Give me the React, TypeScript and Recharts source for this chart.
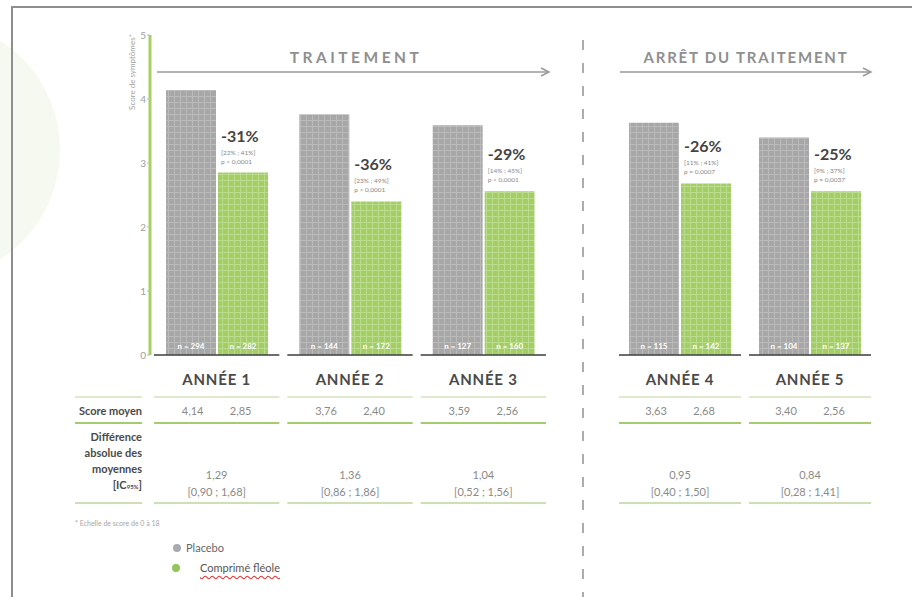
import React from 'react'
import { BarChart, Bar, XAxis, YAxis, LabelList } from 'recharts'

// values (French decimal commas in the table)
const years = ['ANNÉE 1', 'ANNÉE 2', 'ANNÉE 3', 'ANNÉE 4', 'ANNÉE 5']
const placebo = [4.14, 3.76, 3.59, 3.63, 3.4]
const fleole = [2.85, 2.4, 2.56, 2.68, 2.56]
const nPlacebo = [294, 144, 127, 115, 104]
const nFleole = [282, 172, 160, 142, 137]
const reduction = ['-31%', '-36%', '-29%', '-26%', '-25%']
const reductionCI = ['[22% ; 41%]', '[23% ; 49%]', '[14% ; 45%]', '[11% ; 41%]', '[9% ; 37%]']
const pValues = ['p < 0,0001', 'p < 0,0001', 'p < 0,0001', 'p = 0,0007', 'p = 0,0037']
const diff = [1.29, 1.36, 1.04, 0.95, 0.84]
const diffLow = [0.9, 0.86, 0.52, 0.4, 0.28]
const diffHigh = [1.68, 1.86, 1.56, 1.5, 1.41]
const yTicks = [0, 1, 2, 3, 4, 5]

const FONT = 'Lato, "Open Sans", sans-serif'
const fr = (v: number) => v.toFixed(2).replace('.', ',')

const rows = years.map((year, i) => ({
  year,
  placebo: placebo[i],
  fleole: fleole[i],
  nP: `n = ${nPlacebo[i]}`,
  nF: `n = ${nFleole[i]}`,
}))
const treatRows = rows.slice(0, 3)
const stopRows = rows.slice(3)

// each x tick draws its whole table column: baseline, year, score row, difference row
function YearTick(props: any) {
  const { x, y, payload, band } = props
  const i = years.indexOf(payload.value)
  const l = x - band / 2 + 4
  const r = x + band / 2 - 4
  const num = { fontSize: 11, fill: '#8a8a8a', textAnchor: 'middle' as const, fontFamily: FONT }
  return (
    <g>
      <line x1={l} x2={r} y1={y} y2={y} stroke="#3c3c3c" strokeWidth={1.5} />
      <text x={x} y={y + 30} textAnchor="middle" fontSize={15} fontWeight={700} fill="#4a4a4a" letterSpacing={0.8} fontFamily={FONT}>
        {payload.value}
      </text>
      <line x1={l} x2={r} y1={y + 42} y2={y + 42} stroke="#d4e2bd" strokeWidth={1.5} />
      <text x={x - 24} y={y + 60} {...num}>{fr(placebo[i])}</text>
      <text x={x + 24} y={y + 60} {...num}>{fr(fleole[i])}</text>
      <line x1={l} x2={r} y1={y + 68} y2={y + 68} stroke="#a6ca6e" strokeWidth={2} />
      <text x={x} y={y + 124} {...num}>{fr(diff[i])}</text>
      <text x={x} y={y + 141} {...num}>[{fr(diffLow[i])} ; {fr(diffHigh[i])}]</text>
      <line x1={l} x2={r} y1={y + 148} y2={y + 148} stroke="#bcd69a" strokeWidth={1.5} />
    </g>
  )
}

function ReductionLabel(props: any) {
  const { x, y, index, offsetIdx } = props
  const i = index + offsetIdx
  const tx = x + 3
  return (
    <g fontFamily={FONT}>
      <text x={tx} y={y - 31} fontSize={16} fontWeight={700} fill="#444">{reduction[i]}</text>
      <text x={tx} y={y - 18} fontSize={6.5} fill="#888">{reductionCI[i]}</text>
      <text x={tx} y={y - 9} fontSize={6.5} fill="#888">{pValues[i]}</text>
    </g>
  )
}

function Patterns() {
  return (
    <defs>
      <pattern id="gridGray" width="6" height="6" patternUnits="userSpaceOnUse">
        <rect width="6" height="6" fill="#a7a7a7" />
        <path d="M0 0.5H6M0.5 0V6" stroke="#bababa" strokeWidth="1" />
      </pattern>
      <pattern id="gridGreen" width="6" height="6" patternUnits="userSpaceOnUse">
        <rect width="6" height="6" fill="#a3ce63" />
        <path d="M0 0.5H6M0.5 0V6" stroke="#bbdb8e" strokeWidth="1" />
      </pattern>
    </defs>
  )
}

export default function App() {
  const nLabel = { position: 'insideBottom' as const, fill: '#fff', fontSize: 8, fontWeight: 700, offset: 6, fontFamily: FONT }
  return (
    <div style={{ position: 'absolute', left: 0, top: 0, width: 912, height: 597, background: '#fff', fontFamily: FONT, overflow: 'hidden' }}>
      <svg width={912} height={597} style={{ position: 'absolute', left: 0, top: 0 }} fontFamily={FONT}>
        <circle cx={-70} cy={150} r={130} fill="#f6f9f0" />
        <rect x={12} y={7} width={920} height={620} fill="none" stroke="#8e8e8e" strokeWidth={2} />
        {/* period headers */}
        <text x={356} y={63} textAnchor="middle" fontSize={15.5} fontWeight={700} fill="#8f8f8f" letterSpacing={3.5}>TRAITEMENT</text>
        <line x1={157} x2={548} y1={72} y2={72} stroke="#9a9a9a" strokeWidth={1.5} />
        <polyline points="541,68 549,72 541,76" fill="none" stroke="#9a9a9a" strokeWidth={1.5} />
        <text x={746} y={63} textAnchor="middle" fontSize={15} fontWeight={700} fill="#8f8f8f" letterSpacing={1.8}>ARRÊT DU TRAITEMENT</text>
        <line x1={620} x2={870} y1={72} y2={72} stroke="#9a9a9a" strokeWidth={1.5} />
        <polyline points="863,68 871,72 863,76" fill="none" stroke="#9a9a9a" strokeWidth={1.5} />
        <line x1={583} x2={583} y1={40} y2={597} stroke="#acacac" strokeWidth={2} strokeDasharray="10 13" />
        {/* y label */}
        <text transform="translate(135,72) rotate(-90)" textAnchor="middle" fontSize={8} fill="#a5a5a5">Score de symptômes*</text>
        {/* row labels */}
        <line x1={75} x2={142} y1={397} y2={397} stroke="#d4e2bd" strokeWidth={1.5} />
        <line x1={75} x2={142} y1={423} y2={423} stroke="#a6ca6e" strokeWidth={2} />
        <line x1={75} x2={142} y1={503} y2={503} stroke="#bcd69a" strokeWidth={1.5} />
        <g textAnchor="end" fontSize={11} fontWeight={700} fill="#4a4a4a">
          <text x={142} y={415}>Score moyen</text>
          <text x={142} y={441}>Différence</text>
          <text x={142} y={457}>absolue des</text>
          <text x={142} y={473}>moyennes</text>
          <text x={142} y={489}>[IC<tspan fontSize={6}>95%</tspan>]</text>
        </g>
        <text x={75} y={526} fontSize={7} fill="#a5a5a5">* Echelle de score de 0 à 18</text>
      </svg>

      <div style={{ position: 'absolute', left: 0, top: 0 }}>
        <BarChart width={562} height={515} data={treatRows} margin={{ top: 35, right: 12, left: 0, bottom: 0 }} barSize={50} barGap={2}>
          <Patterns />
          <XAxis dataKey="year" axisLine={false} tickLine={false} tickSize={0} tickMargin={0} height={160} interval={0}
            tick={(p: any) => <YearTick {...p} band={400 / 3} />} />
          <YAxis domain={[0, 5]} ticks={yTicks} width={150} axisLine={{ stroke: '#a6cf66', strokeWidth: 3 }}
            tickLine={{ stroke: '#bbb' }} tickSize={3} tickMargin={1} tick={{ fill: '#a0a0a0', fontSize: 10, fontFamily: FONT }} />
          <Bar dataKey="placebo" fill="url(#gridGray)" isAnimationActive={false}>
            <LabelList dataKey="nP" {...nLabel} />
          </Bar>
          <Bar dataKey="fleole" fill="url(#gridGreen)" isAnimationActive={false}>
            <LabelList dataKey="nF" {...nLabel} />
            <LabelList dataKey="fleole" content={(p: any) => <ReductionLabel {...p} offsetIdx={0} />} />
          </Bar>
        </BarChart>
      </div>

      <div style={{ position: 'absolute', left: 600, top: 0 }}>
        <BarChart width={290} height={515} data={stopRows} margin={{ top: 35, right: 15, left: 15, bottom: 0 }} barSize={50} barGap={2}>
          <Patterns />
          <XAxis dataKey="year" axisLine={false} tickLine={false} tickSize={0} tickMargin={0} height={160} interval={0}
            tick={(p: any) => <YearTick {...p} band={130} />} />
          <YAxis domain={[0, 5]} ticks={yTicks} hide />
          <Bar dataKey="placebo" fill="url(#gridGray)" isAnimationActive={false}>
            <LabelList dataKey="nP" {...nLabel} />
          </Bar>
          <Bar dataKey="fleole" fill="url(#gridGreen)" isAnimationActive={false}>
            <LabelList dataKey="nF" {...nLabel} />
            <LabelList dataKey="fleole" content={(p: any) => <ReductionLabel {...p} offsetIdx={3} />} />
          </Bar>
        </BarChart>
      </div>

      {/* legend */}
      <div style={{ position: 'absolute', left: 173, top: 541, fontSize: 11, color: '#666', lineHeight: '14px' }}>
        <span style={{ display: 'inline-block', width: 8, height: 8, borderRadius: 4, background: '#a9a9b2', marginRight: 5 }} />
        Placebo
      </div>
      <div style={{ position: 'absolute', left: 172, top: 561, fontSize: 11, color: '#555', lineHeight: '14px' }}>
        <span style={{ display: 'inline-block', width: 8, height: 8, borderRadius: 4, background: '#92c55c', marginRight: 20 }} />
        <span style={{ textDecoration: 'underline wavy #d33', textUnderlineOffset: 3 }}>Comprimé fléole</span>
      </div>
    </div>
  )
}
